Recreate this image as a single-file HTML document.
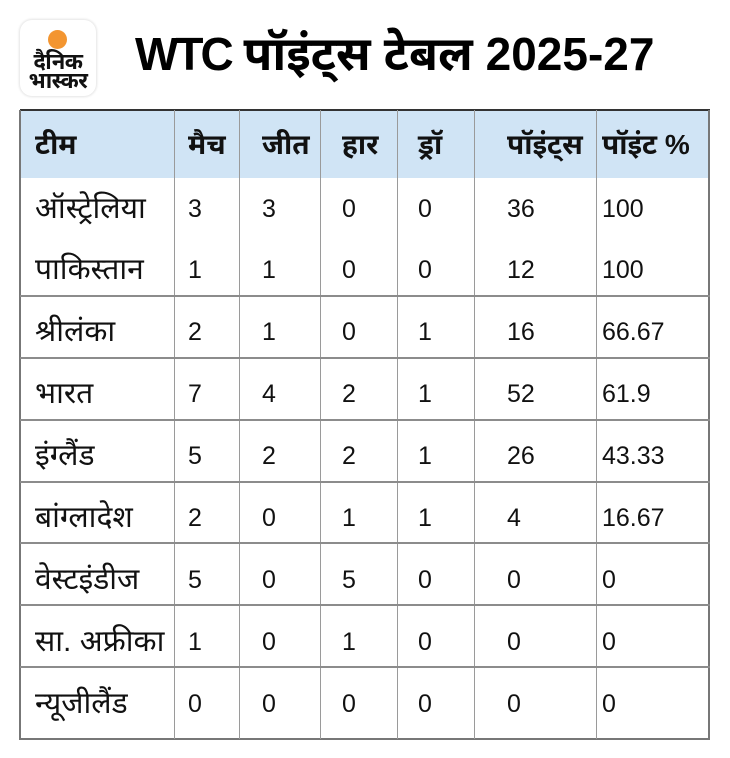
<!DOCTYPE html>
<html><head><meta charset="utf-8">
<style>
html,body{margin:0;padding:0;background:#fff;}
body{width:730px;height:758px;position:relative;overflow:hidden;font-family:"Liberation Sans","Noto Sans Devanagari","Lohit Devanagari","FreeSans",sans-serif;color:#111;}
.abs{position:absolute;}
.logo{left:20px;top:20px;width:76px;height:76px;border-radius:12px;background:#fff;box-shadow:0 0 2px 1px #e4e4e4;}
.dot{left:48px;top:30px;width:19px;height:19px;border-radius:50%;background:#f39530;}
.lt{left:20px;width:76px;text-align:center;font-weight:bold;font-size:22px;line-height:20px;color:#111;letter-spacing:-0.5px;}
.title{left:135px;top:19px;font-size:46px;font-weight:bold;line-height:70px;white-space:nowrap;color:#000;}
.title .w{letter-spacing:-3px;}
.title .d{font-size:47px;}
.hdr{left:20px;top:110px;width:690px;height:68px;background:#d0e4f5;}
.cell{position:absolute;font-size:25px;white-space:nowrap;}
.cell.dv{font-size:30px;}
.cell.b.dv{font-size:28px;}
.cell.b{font-weight:bold;}
.vl{position:absolute;width:1px;background:#9a9a9a;top:110px;height:629px;}
.hl{position:absolute;left:20px;width:690px;height:2px;background:#8c8c8c;}
</style></head><body>
<div class="abs logo"></div>
<div class="abs dot"></div>
<div class="abs lt" style="top:52px;">दैनिक</div>
<div class="abs lt" style="top:71px;">भास्कर</div>
<div class="abs title"><span class="w">WTC</span> <span class="d">पॉइंट्स टेबल</span> 2025-27</div>

<div class="abs hdr"></div>
<div class="abs" style="left:20px;top:109px;width:690px;height:2px;background:#333;"></div>
<div class="abs" style="left:19px;top:110px;width:2px;height:630px;background:#777;"></div>
<div class="abs" style="left:708px;top:110px;width:2px;height:630px;background:#777;"></div>
<div class="abs" style="left:20px;top:738px;width:690px;height:2px;background:#777;"></div>
<div class="vl" style="left:174px"></div>
<div class="vl" style="left:239px"></div>
<div class="vl" style="left:320px"></div>
<div class="vl" style="left:397px"></div>
<div class="vl" style="left:474px"></div>
<div class="vl" style="left:596px"></div>
<div class="hl" style="top:295px"></div>
<div class="hl" style="top:357px"></div>
<div class="hl" style="top:419px"></div>
<div class="hl" style="top:481px"></div>
<div class="hl" style="top:542px"></div>
<div class="hl" style="top:604px"></div>
<div class="hl" style="top:666px"></div>

<div id="rows"></div>
<script>
var cols=[35,188,262,342,418,507,602];
var rows=[
 [145,true,["टीम","मैच","जीत","हार","ड्रॉ","पॉइंट्स","पॉइंट %"]],
 [209,false,["ऑस्ट्रेलिया","3","3","0","0","36","100"]],
 [270,false,["पाकिस्तान","1","1","0","0","12","100"]],
 [332,false,["श्रीलंका","2","1","0","1","16","66.67"]],
 [394,false,["भारत","7","4","2","1","52","61.9"]],
 [456,false,["इंग्लैंड","5","2","2","1","26","43.33"]],
 [518,false,["बांग्लादेश","2","0","1","1","4","16.67"]],
 [580,false,["वेस्टइंडीज","5","0","5","0","0","0"]],
 [642,false,["सा. अफ्रीका","1","0","1","0","0","0"]],
 [704,false,["न्यूजीलैंड","0","0","0","0","0","0"]]
];
var h="";
rows.forEach(function(r){
 r[2].forEach(function(t,i){
  var dv=/[\u0900-\u097F]/.test(t);
  var cls="cell"+(r[1]?" b":"")+(dv?" dv":"");
  h+='<div class="'+cls+'" style="left:'+cols[i]+'px;top:'+(r[0]-20)+'px;height:40px;line-height:40px;">'+t+'</div>';
 });
});
document.getElementById('rows').innerHTML=h;
</script>
</body></html>
